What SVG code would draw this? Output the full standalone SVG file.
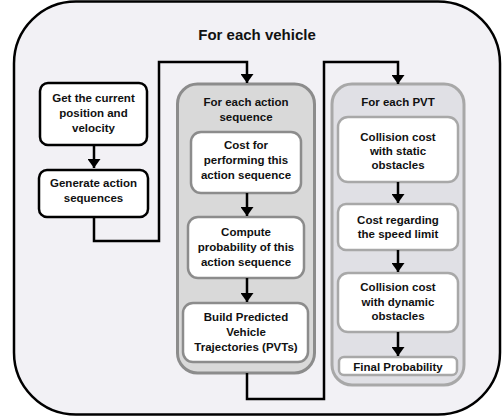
<svg xmlns="http://www.w3.org/2000/svg" width="502" height="419" viewBox="0 0 502 419">
  <defs>
    <marker id="arrow" viewBox="0 0 9 13" refX="9" refY="6.5" markerWidth="3.6" markerHeight="5.2" orient="auto" markerUnits="strokeWidth">
      <path d="M0,0 L9,6.5 L0,13 z" fill="#000"/>
    </marker>
    <style>
      text { font-family: "Liberation Sans", Arial, sans-serif; font-weight: bold; fill: #111; text-anchor: middle; }
      .title { font-size: 15px; }
      .lbl { font-size: 11.5px; }
      .outer { fill: #f2f1f5; stroke: #000; stroke-width: 2.5; }
      .step { fill: #fff; stroke: #000; stroke-width: 2.5; }
      .loopA { fill: #d9d9d9; stroke: #8c8c8c; stroke-width: 3; }
      .loopB { fill: #e0e0e5; stroke: #a8a8a8; stroke-width: 3; }
      .inner { fill: #fff; stroke: #8c8c8c; stroke-width: 2.5; }
      .innerB { fill: #fff; stroke: #a8a8a8; stroke-width: 2.5; }
      .conn { fill: none; stroke: #000; stroke-width: 2.5; }
    </style>
  </defs>

  <!-- outer loop: each vehicle -->
  <g id="vehicle-loop">
    <rect class="outer" x="14" y="1.5" width="486" height="413" rx="62" ry="62"/>
    <text class="title" x="257" y="40">For each vehicle</text>
  </g>

  <g id="get-state">
    <rect class="step" x="40" y="83" width="107" height="62" rx="8"/>
    <text class="lbl" x="93.5" y="102">Get the current</text>
    <text class="lbl" x="93.5" y="117">position and</text>
    <text class="lbl" x="93.5" y="132">velocity</text>
  </g>

  <g id="generate">
    <rect class="step" x="39" y="170" width="109" height="47" rx="8"/>
    <text class="lbl" x="93.5" y="187">Generate action</text>
    <text class="lbl" x="93.5" y="202">sequences</text>
  </g>

  <!-- loop over action sequences -->
  <g id="action-loop">
    <rect class="loopA" x="177.5" y="84" width="137" height="289" rx="20"/>
    <text class="lbl" x="246" y="106">For each action</text>
    <text class="lbl" x="246" y="121">sequence</text>
  </g>

  <g id="cost-action">
    <rect class="inner" x="191" y="132" width="110" height="61" rx="10"/>
    <text class="lbl" x="246" y="149">Cost for</text>
    <text class="lbl" x="246" y="164">performing this</text>
    <text class="lbl" x="246" y="179">action sequence</text>
  </g>

  <g id="probability">
    <rect class="inner" x="188" y="217" width="116" height="61" rx="10"/>
    <text class="lbl" x="246" y="236">Compute</text>
    <text class="lbl" x="246" y="251">probability of this</text>
    <text class="lbl" x="246" y="266">action sequence</text>
  </g>

  <g id="build-pvts">
    <rect class="inner" x="183" y="303" width="125" height="59" rx="10"/>
    <text class="lbl" x="246" y="321">Build Predicted</text>
    <text class="lbl" x="246" y="336">Vehicle</text>
    <text class="lbl" x="246" y="351">Trajectories (PVTs)</text>
  </g>

  <!-- loop over PVTs -->
  <g id="pvt-loop">
    <rect class="loopB" x="332" y="84" width="132" height="301" rx="20"/>
    <text class="lbl" x="398" y="106">For each PVT</text>
  </g>

  <g id="static-cost">
    <rect class="innerB" x="338" y="117" width="120" height="65" rx="10"/>
    <text class="lbl" x="398" y="141">Collision cost</text>
    <text class="lbl" x="398" y="155">with static</text>
    <text class="lbl" x="398" y="169">obstacles</text>
  </g>

  <g id="speed-cost">
    <rect class="innerB" x="338" y="204" width="120" height="46" rx="8"/>
    <text class="lbl" x="398" y="224">Cost regarding</text>
    <text class="lbl" x="398" y="238">the speed limit</text>
  </g>

  <g id="dynamic-cost">
    <rect class="innerB" x="338" y="273" width="120" height="59" rx="10"/>
    <text class="lbl" x="398" y="291">Collision cost</text>
    <text class="lbl" x="398" y="306">with dynamic</text>
    <text class="lbl" x="398" y="320">obstacles</text>
  </g>

  <g id="final-probability">
    <rect class="innerB" x="339" y="357" width="118" height="18" rx="5"/>
    <text class="lbl" x="398" y="370.5">Final Probability</text>
  </g>

  <!-- connectors -->
  <g id="connectors">
    <path class="conn" d="M94,145 V168" marker-end="url(#arrow)"/>
    <path class="conn" d="M94,217 V241 H159 V62 H247 V83" marker-end="url(#arrow)"/>
    <path class="conn" d="M247,193 V216" marker-end="url(#arrow)"/>
    <path class="conn" d="M247,278 V302" marker-end="url(#arrow)"/>
    <path class="conn" d="M247,373 V399 H324 V62 H398 V84" marker-end="url(#arrow)"/>
    <path class="conn" d="M398,182 V203" marker-end="url(#arrow)"/>
    <path class="conn" d="M398,250 V272" marker-end="url(#arrow)"/>
    <path class="conn" d="M398,332 V356" marker-end="url(#arrow)"/>
  </g>
</svg>
